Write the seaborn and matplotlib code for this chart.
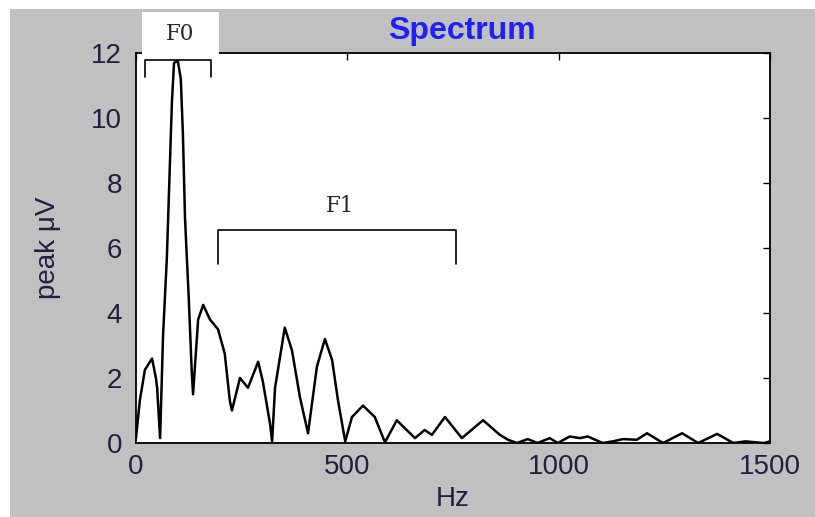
import matplotlib
matplotlib.use("Agg")
import matplotlib.pyplot as plt
from matplotlib.patches import Rectangle
import seaborn as sns
import pandas as pd

sns.set_style("white")
plt.rcParams["font.family"] = ["Liberation Sans", "DejaVu Sans"]

# spectrum
freq_hz = [0, 9, 21, 38, 47, 50, 57, 64, 73, 80, 85, 90, 99, 106, 111, 116,
           125, 132, 135, 147, 159, 175, 194, 210, 222, 227, 246, 265, 289,
           300, 317, 322, 329, 352, 369, 388, 407, 428, 447, 464, 478, 495,
           511, 537, 565, 589, 617, 660, 683, 700, 731, 771, 821, 861, 880,
           901, 927, 950, 979, 998, 1026, 1050, 1069, 1104, 1128, 1152, 1185,
           1209, 1247, 1292, 1330, 1375, 1413, 1442, 1485, 1500]
peak_uv = [0.15, 1.3, 2.25, 2.6, 2.0, 1.7, 0.15, 3.3, 5.7, 8.5, 10.5, 11.7,
           11.75, 11.2, 9.5, 6.9, 4.4, 2.15, 1.5, 3.8, 4.25, 3.8, 3.5, 2.75,
           1.3, 1.0, 2.0, 1.7, 2.5, 1.9, 0.6, 0.05, 1.7, 3.55, 2.85, 1.4, 0.3,
           2.35, 3.2, 2.55, 1.3, 0.05, 0.8, 1.15, 0.8, 0.02, 0.7, 0.15, 0.4,
           0.25, 0.8, 0.15, 0.7, 0.25, 0.1, 0.0, 0.12, 0.0, 0.15, 0.0, 0.2,
           0.15, 0.2, 0.0, 0.05, 0.12, 0.1, 0.3, 0.0, 0.3, 0.0, 0.28, 0.0,
           0.05, 0.0, 0.05]
x_ticks = [0, 500, 1000, 1500]
y_ticks = [0, 2, 4, 6, 8, 10, 12]

df = pd.DataFrame({"Hz": freq_hz, "peak": peak_uv})

fig = plt.figure(figsize=(8.15, 5.17), dpi=100, facecolor="white")
fig.patches.append(Rectangle((10 / 815, 0), 1, 1 - 9 / 517,
                             transform=fig.transFigure, facecolor="#c0c0c0",
                             edgecolor="none", zorder=-10))
ax = fig.add_axes([136 / 815, 74 / 517, 634 / 815, 390 / 517])
ax.set_facecolor("white")

sns.lineplot(data=df, x="Hz", y="peak", ax=ax, color="black", linewidth=1.8)

ax.set_xlim(0, 1500)
ax.set_ylim(0, 12)
ax.set_xticks(x_ticks)
ax.set_yticks(y_ticks)
tick_col = "#202040"
ax.tick_params(direction="in", length=5, width=1, top=True, right=True,
               labelsize=20, colors="black", labelcolor=tick_col)
ax.tick_params(axis="y", pad=10)
ax.tick_params(axis="x", pad=8)
for s in ax.spines.values():
    s.set_color("black")
    s.set_linewidth(1.3)
ax.set_xlabel("Hz", fontsize=20, color=tick_col, labelpad=4)
ax.set_ylabel("peak μV", fontsize=20, color=tick_col, labelpad=22)

fig.text(462 / 815, 1 - 31 / 517, "Spectrum", color="#2020ff",
         fontsize=23, fontweight="bold", ha="center", va="center")

serif = ["DejaVu Serif"]

# F0 label box over the top edge
ax.add_patch(Rectangle((14, 11.95), 182, 1.3, facecolor="white",
                       edgecolor="none", clip_on=False, zorder=5))
ax.text(104, 12.58, "F0", family=serif, fontsize=15.5,
        ha="center", va="center", zorder=6, clip_on=False)

# brackets
ax.plot([21, 21, 177, 177], [11.26, 11.78, 11.78, 11.26], color="black",
        linewidth=1.2, zorder=4, clip_on=False)
ax.plot([194, 194, 757, 757], [5.5, 6.55, 6.55, 5.5], color="black",
        linewidth=1.2, zorder=4)
ax.text(483, 7.3, "F1", family=serif, fontsize=15.5,
        ha="center", va="center")

fig.savefig("out.png", dpi=100, facecolor=fig.get_facecolor())
